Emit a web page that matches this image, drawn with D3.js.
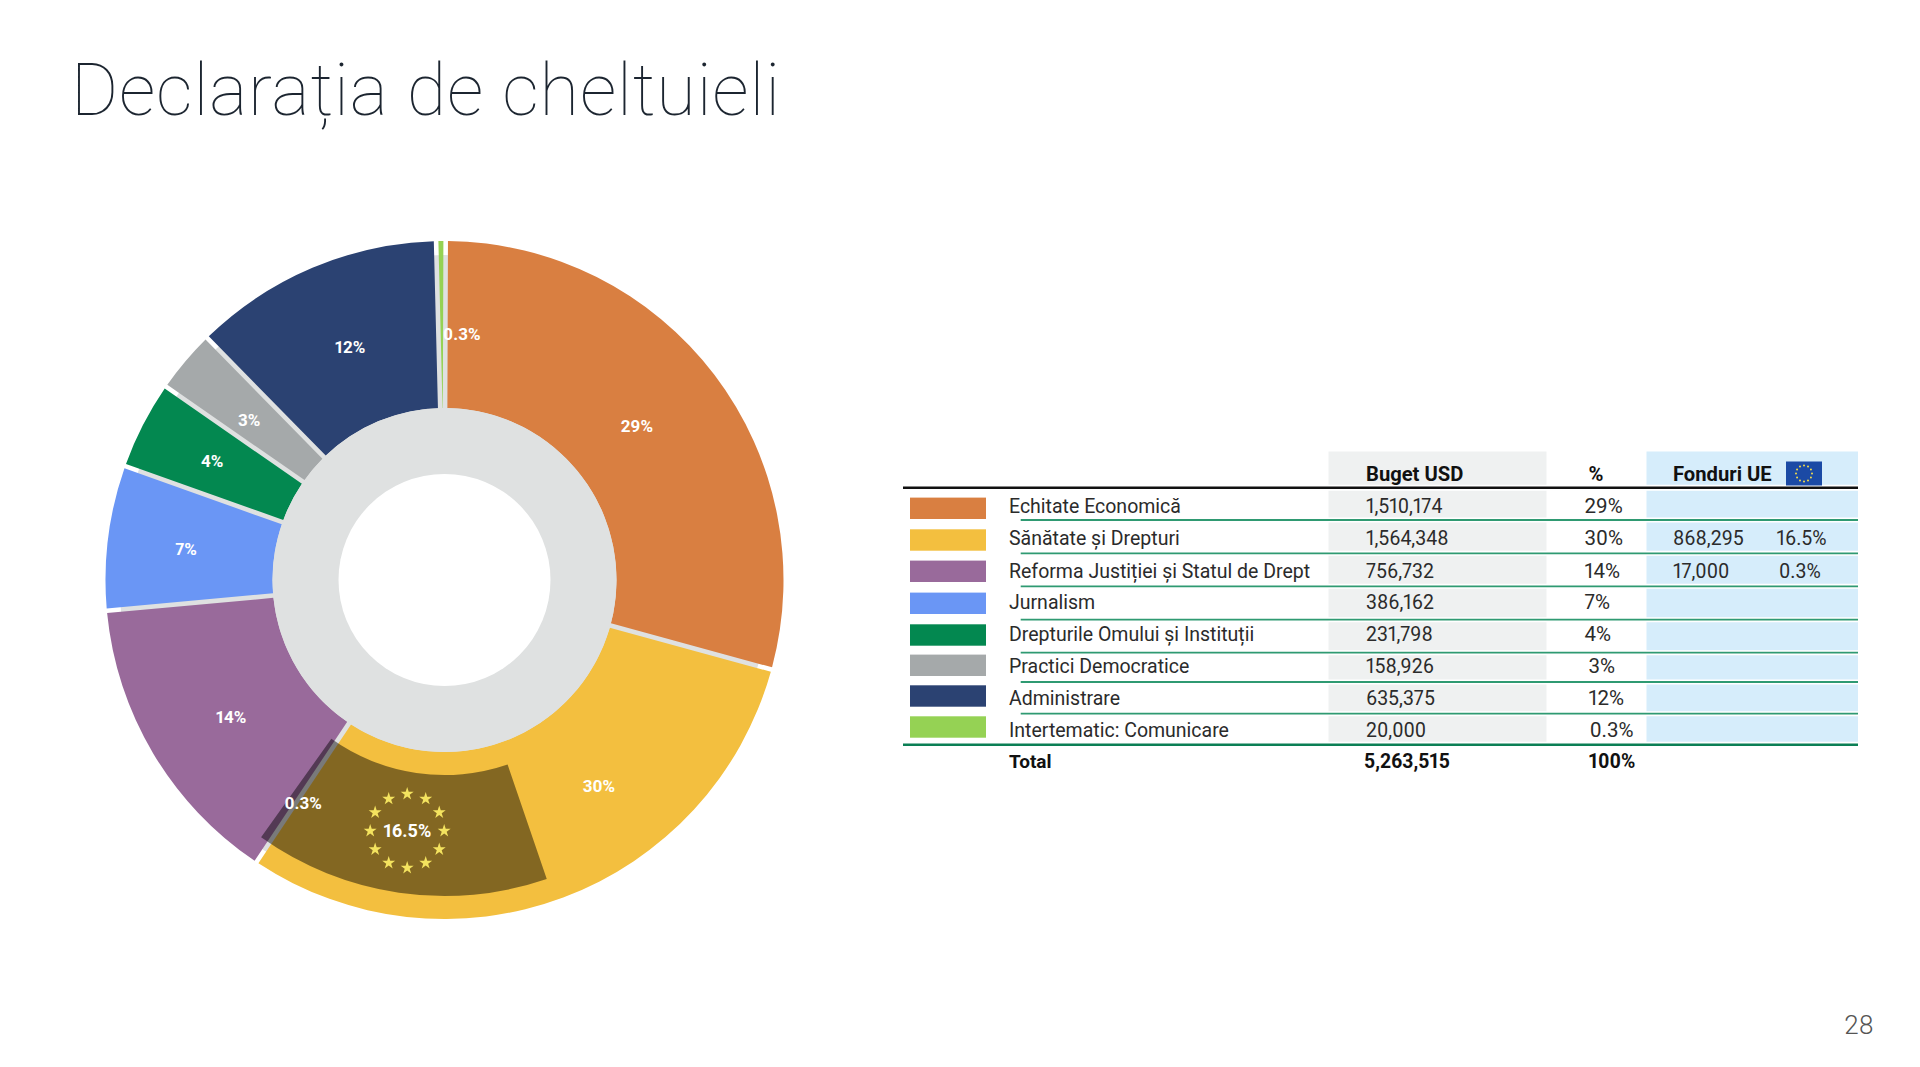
<!DOCTYPE html>
<html>
<head>
<meta charset="utf-8">
<script src="https://cdn.jsdelivr.net/npm/d3@7"></script>
<style>
  html, body { margin: 0; background: #fff; }
  svg { display: block; }
  text { font-family: Roboto, sans-serif; font-variant-numeric: proportional-nums; }
</style>
</head>
<body>
<svg id="chart" width="1920" height="1067"></svg>
<script>
const titleText = 'Declarația de cheltuieli';
const categories = ['Echitate Economică', 'Sănătate și Drepturi', 'Reforma Justiției și Statul de Drept', 'Jurnalism',
  'Drepturile Omului și Instituții', 'Practici Democratice', 'Administrare', 'Intertematic: Comunicare'];
const colors = ['#d97f41', '#f3bf3f', '#996a9b', '#6a96f5', '#038850', '#a5a9aa', '#2b4272', '#95d254'];
const budgetLabels = ['1,510,174', '1,564,348', '756,732', '386,162', '231,798', '158,926', '635,375', '20,000'];
const percentLabels = ['29%', '30%', '14%', '7%', '4%', '3%', '12%', '0.3%'];
// share of the ring each slice takes as drawn
const sliceShares = [29.2, 30.1, 14.2, 6.9, 4.2, 3.0, 11.95, 0.45];
// EU-funded part sits at the end of the yellow slice and runs over into purple
const euShareBefore = 14.6;
const euShareAfter = 0.5;
const euRows = [
  { row: 1, amount: '868,295', pct: '16.5%' },
  { row: 2, amount: '17,000', pct: '0.3%' }
];

const svg = d3.select('#chart');
const rad = (deg) => deg * Math.PI / 180;

svg.append('text')
  .attr('x', 71).attr('y', 115)
  .attr('font-size', 72).attr('font-weight', 100).attr('fill', '#1c2530')
  .attr('textLength', 709).attr('lengthAdjust', 'spacing')
  .text(titleText);

svg.append('text')
  .attr('x', 1859).attr('y', 1034).attr('text-anchor', 'middle')
  .attr('font-size', 26).attr('font-weight', 300).attr('fill', '#555')
  .text('28');

// --- donut ---
const cx = 444.5, cy = 580, rOuter = 339, rInner = 172, rHole = 106;
const donut = svg.append('g').attr('transform', `translate(${cx},${cy})`);

const pie = d3.pie().sort(null).value((d) => d)
  .startAngle(rad(0.2)).endAngle(rad(0.2) + 2 * Math.PI);
const slices = pie(sliceShares);
const arc = d3.arc().innerRadius(rInner).outerRadius(rOuter).padAngle(0.0135).padRadius(rOuter);

// grey shows through the gaps between slices, except at the outer rim
donut.append('circle').attr('r', 325).attr('fill', '#dfe1e1');

donut.selectAll('path.slice')
  .data(slices)
  .join('path')
  .attr('class', 'slice')
  .attr('d', arc)
  .attr('fill', (d, i) => colors[i]);

const shareToAngle = (s) => s / d3.sum(sliceShares) * 2 * Math.PI;
const yellowEnd = slices[1].endAngle;
const euArc = d3.arc().innerRadius(195).outerRadius(316)
  .startAngle(yellowEnd - shareToAngle(euShareBefore))
  .endAngle(yellowEnd + shareToAngle(euShareAfter));
donut.append('path').attr('d', euArc).attr('fill', '#000').attr('fill-opacity', 0.46);

donut.append('path')
  .attr('d', d3.arc().innerRadius(rHole).outerRadius(rInner).startAngle(0).endAngle(2 * Math.PI))
  .attr('fill', '#dfe1e1');
donut.append('circle').attr('r', rHole).attr('fill', '#fff');

// slice labels sit on the centroid; most are nudged off it in the original
const labelNudge = [[-11, 1], [65, -33], [6, 6], [-5, 1], [-5, -2], [0, 5], [5, 2], [20, 9]];
const labelG = donut.append('g')
  .attr('fill', '#fff').attr('font-size', 17).attr('font-weight', 700).attr('text-anchor', 'middle');
slices.forEach((d, i) => {
  const c = d3.arc().innerRadius(rInner).outerRadius(rOuter).centroid(d);
  labelG.append('text')
    .attr('x', c[0] + labelNudge[i][0]).attr('y', c[1] + labelNudge[i][1] + 6)
    .text(percentLabels[i]);
});

const euCentre = d3.arc().innerRadius(195).outerRadius(316)
  .startAngle(yellowEnd - shareToAngle(euShareBefore)).endAngle(yellowEnd).centroid();
const euG = donut.append('g').attr('transform', `translate(${euCentre[0] - 4.4},${euCentre[1] - 2.5})`);
euG.append('text').attr('y', 6).attr('text-anchor', 'middle')
  .attr('fill', '#fff').attr('font-size', 18).attr('font-weight', 700).text('16.5%');
euG.selectAll('path')
  .data(d3.range(12))
  .join('path')
  .attr('d', d3.symbol(d3.symbolStar, 52))
  .attr('fill', '#f4e35f')
  .attr('transform', (i) => `translate(${37 * Math.sin(i * Math.PI / 6)},${-37 * Math.cos(i * Math.PI / 6)})`);
labelG.append('text')
  .attr('x', euCentre[0] - 108.4).attr('y', euCentre[1] - 24.7).text('0.3%');

// --- table ---
const table = svg.append('g');
const rowIdx = d3.range(8);
// rows in the original slide are not evenly spaced
const textRow = d3.scaleOrdinal().domain(rowIdx).range([512.7, 544.7, 577.7, 609, 641, 673, 705, 736.7]);
const swatchRow = d3.scaleOrdinal().domain(rowIdx).range([508.3, 540, 571.3, 603.3, 635, 665.3, 696, 727]);
const ruleRow = d3.scaleOrdinal().domain(d3.range(7)).range([520, 553.3, 586.3, 619.7, 652.7, 682, 713.7]);

table.append('rect').attr('x', 1328.5).attr('y', 451.5).attr('width', 218).attr('height', 292).attr('fill', '#eff1f1');
table.append('rect').attr('x', 1646.5).attr('y', 451.5).attr('width', 211.5).attr('height', 292).attr('fill', '#d6edfb');

table.selectAll('rect.swatch')
  .data(colors)
  .join('rect')
  .attr('class', 'swatch')
  .attr('x', 910).attr('width', 76)
  .attr('y', (d, i) => swatchRow(i) - 10.7).attr('height', 21.4)
  .attr('fill', (d) => d);

d3.range(7).forEach((i) => {
  table.append('line').attr('x1', 1020.7).attr('x2', 1858).attr('y1', ruleRow(i)).attr('y2', ruleRow(i))
    .attr('stroke', '#fff').attr('stroke-width', 5);
  table.append('line').attr('x1', 1020.7).attr('x2', 1858).attr('y1', ruleRow(i)).attr('y2', ruleRow(i))
    .attr('stroke', '#2f9a72').attr('stroke-width', 1.8);
});
table.append('line').attr('x1', 903).attr('x2', 1858).attr('y1', 487.7).attr('y2', 487.7)
  .attr('stroke', '#fff').attr('stroke-width', 6);
table.append('line').attr('x1', 903).attr('x2', 1858).attr('y1', 487.7).attr('y2', 487.7)
  .attr('stroke', '#111').attr('stroke-width', 2.6);
table.append('line').attr('x1', 903).attr('x2', 1858).attr('y1', 744.7).attr('y2', 744.7)
  .attr('stroke', '#fff').attr('stroke-width', 6);
table.append('line').attr('x1', 903).attr('x2', 1858).attr('y1', 744.7).attr('y2', 744.7)
  .attr('stroke', '#0b7f55').attr('stroke-width', 2.6);

const bodyText = (x, y, s, size = 19.5) => table.append('text')
  .attr('x', x).attr('y', y).attr('font-size', size).attr('fill', '#2b2b2b').text(s);
const boldText = (x, y, s, size) => table.append('text')
  .attr('x', x).attr('y', y).attr('font-size', size).attr('font-weight', 700).attr('fill', '#111').text(s);

const pctX = [1584.5, 1584.5, 1584.5, 1584.5, 1584.5, 1588.6, 1588.6, 1589.7];
categories.forEach((c, i) => {
  bodyText(1009, textRow(i), c);
  bodyText(1366, textRow(i), budgetLabels[i]);
  bodyText(pctX[i], textRow(i), percentLabels[i], 20.5);
});
euRows.forEach((d) => {
  bodyText(1673, textRow(d.row), d.amount);
  bodyText(d.row === 1 ? 1776.6 : 1779, textRow(d.row), d.pct);
});

boldText(1366, 480.7, 'Buget USD', 20.2);
boldText(1588.6, 480.7, '%', 20.2);
boldText(1673, 480.7, 'Fonduri UE', 20.2);
boldText(1009, 768, 'Total', 19);
boldText(1364, 768, '5,263,515', 19.4);
boldText(1588.6, 768, '100%', 19.4);

// little EU flag in the header
table.append('rect').attr('x', 1786).attr('y', 461.5).attr('width', 36).attr('height', 24).attr('fill', '#1b4aa5');
table.selectAll('circle.flagstar')
  .data(d3.range(12))
  .join('circle')
  .attr('class', 'flagstar')
  .attr('r', 1)
  .attr('cx', (i) => 1804 + 8 * Math.sin(i * Math.PI / 6))
  .attr('cy', (i) => 473.5 - 8 * Math.cos(i * Math.PI / 6))
  .attr('fill', '#f2dc4a');
</script>
</body>
</html>
